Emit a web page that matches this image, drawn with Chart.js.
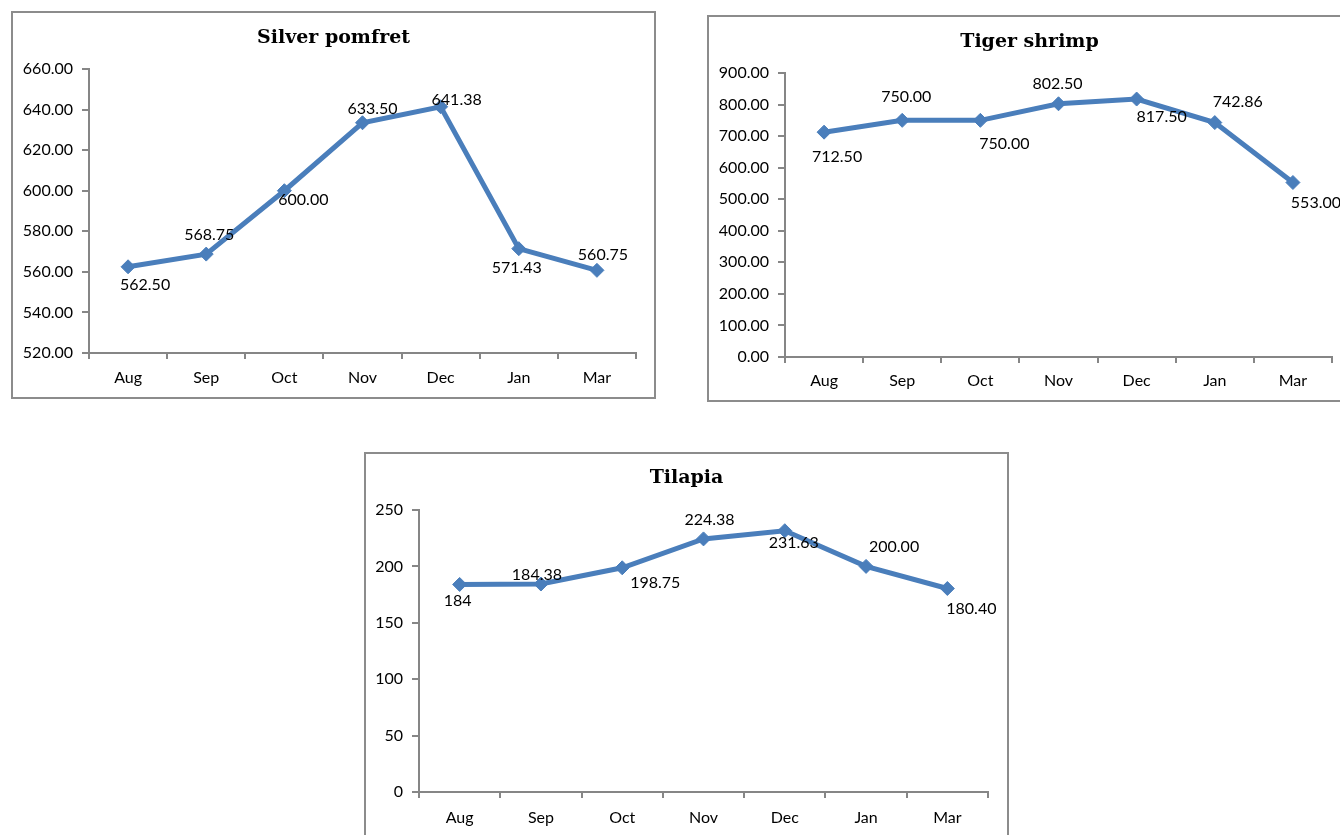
<!DOCTYPE html>
<html lang="en">
<head>
  <meta charset="UTF-8" />
  <title>Fish prices</title>
  <script src="https://cdn.jsdelivr.net/npm/chart.js"></script>
  <style>
    body {
      margin: 0;
      background: #fff;
      width: 1340px;
      height: 835px;
      overflow: hidden;
      position: relative;
    }
    .frame {
      position: absolute;
      box-sizing: border-box;
      border: 2px solid #8c8c8c;
    }
    canvas {
      position: absolute;
    }
  </style>
</head>
<body>
  <div class="frame" style="left:11px; top:11px; width:645px; height:388px;"></div>
  <div class="frame" style="left:707px; top:15px; width:645px; height:387px;"></div>
  <div class="frame" style="left:364px; top:452px; width:645px; height:400px;"></div>

  <canvas id="pomfretChart" style="left:13px; top:13px;" width="641" height="383"></canvas>
  <canvas id="shrimpChart" style="left:709px; top:17px;" width="641" height="382"></canvas>
  <canvas id="tilapiaChart" style="left:366px; top:454px;" width="641" height="381"></canvas>

  <script>
    const months = ['Aug', 'Sep', 'Oct', 'Nov', 'Dec', 'Jan', 'Mar'];
    const pomfretPrices = [562.50, 568.75, 600.00, 633.50, 641.38, 571.43, 560.75];
    const shrimpPrices = [712.50, 750.00, 750.00, 802.50, 817.50, 742.86, 553.00];
    const tilapiaPrices = [184, 184.38, 198.75, 224.38, 231.63, 200.00, 180.40];

    const lineBlue = '#4a7ebb';
    const axisGrey = '#868686';
    const bodyFont = 'Lato';

    // draws the chart title and the value next to each point
    const labelPlugin = {
      id: 'pointLabels',
      afterDatasetsDraw(chart, args, opts) {
        const ctx = chart.ctx;
        const meta = chart.getDatasetMeta(0);
        const values = chart.data.datasets[0].data;
        ctx.save();
        ctx.fillStyle = '#000';
        ctx.font = '16px ' + bodyFont;
        ctx.textAlign = 'center';
        ctx.textBaseline = 'middle';
        meta.data.forEach((pt, i) => {
          const [dx, dy] = opts.offsets[i];
          const txt = values[i].toFixed(opts.decimals[i]);
          ctx.fillText(txt, pt.x + dx, pt.y + dy);
        });
        ctx.font = 'bold 19px "DejaVu Serif"';
        ctx.textBaseline = 'alphabetic';
        ctx.fillText(opts.title, chart.width / 2, opts.titleY);
        ctx.restore();
      }
    };

    function makeChart(id, title, values, yMin, yMax, yStep, yDecimals, geom, offsets, decimals) {
      const ctx = document.getElementById(id).getContext('2d');
      return new Chart(ctx, {
        type: 'line',
        data: {
          labels: months,
          datasets: [{
            data: values,
            borderColor: lineBlue,
            backgroundColor: lineBlue,
            borderWidth: 5,
            tension: 0,
            pointStyle: 'rectRot',
            pointRadius: 7,
            pointBorderWidth: 1,
            pointBorderColor: lineBlue,
            pointBackgroundColor: lineBlue
          }]
        },
        options: {
          responsive: false,
          animation: false,
          layout: { padding: { top: geom.top, right: geom.right, left: 0, bottom: 0 } },
          plugins: {
            legend: { display: false },
            tooltip: { enabled: false },
            pointLabels: { title: title, titleY: geom.titleY, offsets: offsets, decimals: decimals }
          },
          scales: {
            x: {
              offset: true,
              grid: {
                offset: true,
                drawOnChartArea: false,
                drawTicks: true,
                tickLength: 6,
                color: axisGrey,
                lineWidth: 2
              },
              border: { display: true, color: axisGrey, width: 2 },
              ticks: { color: '#000', font: { family: bodyFont, size: 16 }, padding: geom.xPad, maxRotation: 0 },
              afterFit(scale) { scale.height = geom.xHeight; }
            },
            y: {
              min: yMin,
              max: yMax,
              grid: {
                drawOnChartArea: false,
                drawTicks: true,
                tickLength: 7,
                color: axisGrey,
                lineWidth: 2
              },
              border: { display: true, color: axisGrey, width: 2 },
              ticks: {
                stepSize: yStep,
                color: '#000',
                font: { family: bodyFont, size: 16 },
                padding: 9,
                callback: v => Number(v).toFixed(yDecimals)
              },
              afterFit(scale) { scale.width = geom.yWidth; }
            }
          }
        },
        plugins: [labelPlugin]
      });
    }

    function drawAll() {
      makeChart('pomfretChart', 'Silver pomfret', pomfretPrices, 520, 660, 20, 2,
        { top: 56, right: 18, yWidth: 76, xHeight: 43, xPad: 9, titleY: 30 },
        [[17, 18], [3, -19], [19, 9], [10, -14], [16, -7], [-2, 19], [6, -15]],
        [2, 2, 2, 2, 2, 2, 2]);

      makeChart('shrimpChart', 'Tiger shrimp', shrimpPrices, 0, 900, 100, 2,
        { top: 56, right: 18, yWidth: 76, xHeight: 42, xPad: 8, titleY: 30 },
        [[13, 25], [4, -23], [24, 24], [-1, -20], [25, 18], [23, -21], [23, 20]],
        [2, 2, 2, 2, 2, 2, 2]);

      makeChart('tilapiaChart', 'Tilapia', tilapiaPrices, 0, 250, 50, 0,
        { top: 56, right: 19, yWidth: 53, xHeight: 43, xPad: 10, titleY: 29 },
        [[-2, 16], [-4, -9], [33, 15], [6, -19], [9, 12], [28, -20], [24, 20]],
        [0, 2, 2, 2, 2, 2, 2]);
    }

    Promise.all([
      document.fonts.load('16px Lato'),
      document.fonts.load('bold 19px "DejaVu Serif"')
    ]).then(drawAll, drawAll);
  </script>
</body>
</html>
